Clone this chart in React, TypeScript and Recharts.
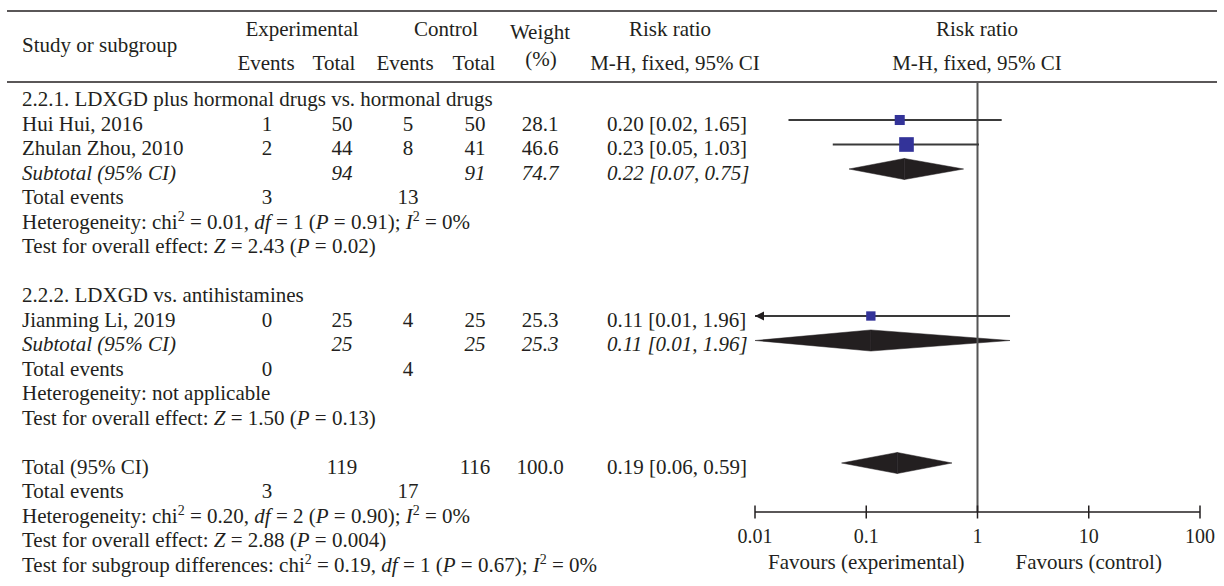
import React from "react";
import {
  ComposedChart, Customized, ReferenceArea, ReferenceLine, Scatter, XAxis, YAxis,
} from "recharts";

// studies
const studyNames = ["Hui Hui, 2016", "Zhulan Zhou, 2010", "Jianming Li, 2019"];
const studyRows = [1, 2, 9];
const expEvents = [1, 2, 0];
const expTotals = [50, 44, 25];
const ctrlEvents = [5, 8, 4];
const ctrlTotals = [50, 41, 25];
const studyWeights = [28.1, 46.6, 25.3];
const studyRR = [0.2, 0.23, 0.11];
const studyLow = [0.02, 0.05, 0.01];
const studyHigh = [1.65, 1.03, 1.96];

// subgroup headings
const groupTitles = ["2.2.1. LDXGD plus hormonal drugs vs. hormonal drugs", "2.2.2. LDXGD vs. antihistamines"];
const groupTitleRows = [0, 8];

// pooled estimates (two subtotals + overall)
const pooledLabels = ["Subtotal (95% CI)", "Subtotal (95% CI)", "Total (95% CI)"];
const pooledRows = [3, 10, 15];
const pooledItalic = [true, true, false];
const pooledExpTotals = [94, 25, 119];
const pooledCtrlTotals = [91, 25, 116];
const pooledWeights = [74.7, 25.3, 100.0];
const pooledRR = [0.22, 0.11, 0.19];
const pooledLow = [0.07, 0.01, 0.06];
const pooledHigh = [0.75, 1.96, 0.59];

const eventRows = [4, 11, 16];
const eventsExp = [3, 0, 3];
const eventsCtrl = [13, 4, 17];

const hetRows = [5, 12, 17];
const hetChi = ["0.01", "", "0.20"];
const hetDf = ["1", "", "2"];
const hetP = ["0.91", "", "0.90"];
const hetI2 = ["0%", "", "0%"];

const effectRows = [6, 13, 18];
const effectZ = ["2.43", "1.50", "2.88"];
const effectP = ["0.02", "0.13", "0.004"];

const subgroupRow = 19;
const subgroupStats = { chi: "0.19", df: "1", p: "0.67", i2: "0%" };

const axisTicks = [0.01, 0.1, 1, 10, 100];
const favourTicks = [0.1, 10];
const favourLabels = ["Favours (experimental)", "Favours (control)"];

const W = 1224;
const H = 586;
const PLOT_TOP = 82;
const PLOT_BOTTOM = 512;
const ROW0 = 95.5;
const ROW_H = 24.5;
const Y_MIN = (PLOT_TOP - ROW0) / ROW_H;
const Y_MAX = (PLOT_BOTTOM - ROW0) / ROW_H;
const FONT = "'Liberation Serif', 'Times New Roman', serif";
const INK = "#231f20";
const FS = 21;

const COL = { name: 22, expEv: 267, expTot: 342, ctrlEv: 408, ctrlTot: 475, weight: 540, rr: 607 };
const base = (i: number) => ROW0 + ROW_H * i + 10.7;
const fmtCI = (rr: number, lo: number, hi: number) =>
  `${rr.toFixed(2)} [${lo.toFixed(2)}, ${hi.toFixed(2)}]`;

const studyPoints = studyNames.map((n, i) => ({ rr: studyRR[i], row: studyRows[i], weight: studyWeights[i] }));

function Sup({ children }: { children: React.ReactNode }) {
  return <tspan dy={-8} fontSize={14}>{children}</tspan>;
}

function T({ x, i, y, anchor = "start", italic = false, children }: any) {
  return (
    <text x={x} y={y ?? base(i)} textAnchor={anchor} fontStyle={italic ? "italic" : "normal"}
      fontFamily={FONT} fontSize={FS} fill={INK}>
      {children}
    </text>
  );
}

function HetLine({ i, chi, df, p, i2, prefix }: any) {
  return (
    <text x={COL.name} y={base(i)} fontFamily={FONT} fontSize={FS} fill={INK}>
      {prefix}chi<Sup>2</Sup>
      <tspan dy={8}>{` = ${chi}, `}</tspan>
      <tspan fontStyle="italic">df</tspan>
      {` = ${df} (`}
      <tspan fontStyle="italic">P</tspan>
      {` = ${p}); `}
      <tspan fontStyle="italic">I</tspan>
      <Sup>2</Sup>
      <tspan dy={8}>{` = ${i2}`}</tspan>
    </text>
  );
}

function TableText() {
  return (
    <g>
      <line x1={7} x2={1217} y1={11} y2={11} stroke={INK} strokeWidth={1.5} />
      <line x1={7} x2={1217} y1={82} y2={82} stroke={INK} strokeWidth={1.5} />
      <T x={COL.name} y={52}>Study or subgroup</T>
      <T x={302} y={36} anchor="middle">Experimental</T>
      <T x={446} y={36} anchor="middle">Control</T>
      <T x={540} y={39} anchor="middle">Weight</T>
      <T x={541} y={66} anchor="middle">(%)</T>
      <T x={670} y={36} anchor="middle">Risk ratio</T>
      <T x={675} y={70} anchor="middle">M-H, fixed, 95% CI</T>
      <T x={977} y={36} anchor="middle">Risk ratio</T>
      <T x={977} y={70} anchor="middle">M-H, fixed, 95% CI</T>
      <T x={266} y={70} anchor="middle">Events</T>
      <T x={334} y={70} anchor="middle">Total</T>
      <T x={405} y={70} anchor="middle">Events</T>
      <T x={474} y={70} anchor="middle">Total</T>

      {groupTitles.map((t, k) => <T key={"g" + k} x={COL.name} i={groupTitleRows[k]}>{t}</T>)}

      {studyNames.map((n, k) => (
        <g key={"s" + k}>
          <T x={COL.name} i={studyRows[k]}>{n}</T>
          <T x={COL.expEv} i={studyRows[k]} anchor="middle">{expEvents[k]}</T>
          <T x={COL.expTot} i={studyRows[k]} anchor="middle">{expTotals[k]}</T>
          <T x={COL.ctrlEv} i={studyRows[k]} anchor="middle">{ctrlEvents[k]}</T>
          <T x={COL.ctrlTot} i={studyRows[k]} anchor="middle">{ctrlTotals[k]}</T>
          <T x={COL.weight} i={studyRows[k]} anchor="middle">{studyWeights[k].toFixed(1)}</T>
          <T x={COL.rr} i={studyRows[k]}>{fmtCI(studyRR[k], studyLow[k], studyHigh[k])}</T>
        </g>
      ))}

      {pooledLabels.map((n, k) => (
        <g key={"p" + k}>
          <T x={COL.name} i={pooledRows[k]} italic={pooledItalic[k]}>{n}</T>
          <T x={COL.expTot} i={pooledRows[k]} anchor="middle" italic={pooledItalic[k]}>{pooledExpTotals[k]}</T>
          <T x={COL.ctrlTot} i={pooledRows[k]} anchor="middle" italic={pooledItalic[k]}>{pooledCtrlTotals[k]}</T>
          <T x={COL.weight} i={pooledRows[k]} anchor="middle" italic={pooledItalic[k]}>{pooledWeights[k].toFixed(1)}</T>
          <T x={COL.rr} i={pooledRows[k]} italic={pooledItalic[k]}>{fmtCI(pooledRR[k], pooledLow[k], pooledHigh[k])}</T>
        </g>
      ))}

      {eventRows.map((r, k) => (
        <g key={"e" + k}>
          <T x={COL.name} i={r}>Total events</T>
          <T x={COL.expEv} i={r} anchor="middle">{eventsExp[k]}</T>
          <T x={COL.ctrlEv} i={r} anchor="middle">{eventsCtrl[k]}</T>
        </g>
      ))}

      {hetRows.map((r, k) =>
        hetChi[k] ? (
          <HetLine key={"h" + k} i={r} chi={hetChi[k]} df={hetDf[k]} p={hetP[k]} i2={hetI2[k]} prefix="Heterogeneity: " />
        ) : (
          <T key={"h" + k} x={COL.name} i={r}>Heterogeneity: not applicable</T>
        ),
      )}

      {effectRows.map((r, k) => (
        <text key={"z" + k} x={COL.name} y={base(r)} fontFamily={FONT} fontSize={FS} fill={INK}>
          {"Test for overall effect: "}
          <tspan fontStyle="italic">Z</tspan>
          {` = ${effectZ[k]} (`}
          <tspan fontStyle="italic">P</tspan>
          {` = ${effectP[k]})`}
        </text>
      ))}

      <HetLine i={subgroupRow} chi={subgroupStats.chi} df={subgroupStats.df} p={subgroupStats.p}
        i2={subgroupStats.i2} prefix="Test for subgroup differences: " />
    </g>
  );
}

function AxisTick(props: any) {
  const { x, y, payload } = props;
  const v = payload.value;
  const fav = favourTicks.indexOf(v);
  return (
    <g>
      <line x1={x} x2={x} y1={y - 6.5} y2={y + 6.5} stroke={INK} strokeWidth={1.5} />
      <text x={x} y={y + 31} textAnchor="middle" fontFamily={FONT} fontSize={20} fill={INK}>{String(v)}</text>
      {fav >= 0 && (
        <text x={x} y={y + 57} textAnchor="middle" fontFamily={FONT} fontSize={FS} fill={INK}>{favourLabels[fav]}</text>
      )}
    </g>
  );
}

function StudySquare(props: any) {
  const { cx, cy, payload } = props;
  const s = 3 + payload.weight * 0.25;
  return <rect x={cx - s / 2} y={cy - s / 2} width={s} height={s} fill="#333399" />;
}

const ciShape = (clipped: boolean) => (p: any) => (
  <g>
    <line x1={p.x1} y1={p.y1} x2={p.x2} y2={p.y2} stroke="#3a3a3a" strokeWidth={1.8} />
    {clipped && (
      <polygon points={`${p.x1},${p.y1} ${p.x1 + 9},${p.y1 - 4.5} ${p.x1 + 9},${p.y1 + 4.5}`} fill={INK} />
    )}
  </g>
);

const leftHalf = (p: any) => (
  <polygon points={`${p.x},${p.y + p.height / 2} ${p.x + p.width},${p.y} ${p.x + p.width},${p.y + p.height}`}
    fill={INK} stroke={INK} strokeWidth={0.5} />
);
const rightHalf = (p: any) => (
  <polygon points={`${p.x},${p.y} ${p.x + p.width},${p.y + p.height / 2} ${p.x},${p.y + p.height}`}
    fill={INK} stroke={INK} strokeWidth={0.5} />
);

export default function App() {
  return (
    <div style={{ position: "absolute", left: 0, top: 0, width: W, height: H, background: "#fff" }}>
      <ComposedChart width={W} height={H} margin={{ top: PLOT_TOP, right: 24, bottom: 0, left: 755 }}>
        <XAxis type="number" dataKey="rr" scale="log" domain={[0.01, 100]} ticks={axisTicks} interval={0}
          allowDataOverflow axisLine={{ stroke: INK, strokeWidth: 1.5 }} tickLine={false} tickSize={0}
          tickMargin={0} tick={<AxisTick />} height={H - PLOT_BOTTOM} />
        <YAxis type="number" dataKey="row" domain={[Y_MIN, Y_MAX]} reversed hide allowDataOverflow />

        <Customized component={<TableText />} />

        <ReferenceLine x={1} stroke="#555" strokeWidth={2} ifOverflow="visible" />

        {studyNames.map((n, k) => (
          <ReferenceLine key={"ci" + k} ifOverflow="visible"
            segment={[{ x: studyLow[k], y: studyRows[k] }, { x: studyHigh[k], y: studyRows[k] }]}
            shape={ciShape(studyLow[k] <= axisTicks[0])} />
        ))}

        {pooledRows.map((r, k) => (
          <React.Fragment key={"d" + k}>
            <ReferenceArea x1={pooledLow[k]} x2={pooledRR[k]} y1={r - 0.43} y2={r + 0.43}
              ifOverflow="visible" shape={leftHalf} />
            <ReferenceArea x1={pooledRR[k]} x2={pooledHigh[k]} y1={r - 0.43} y2={r + 0.43}
              ifOverflow="visible" shape={rightHalf} />
          </React.Fragment>
        ))}

        <Scatter data={studyPoints} shape={<StudySquare />} isAnimationActive={false} />
      </ComposedChart>
    </div>
  );
}
